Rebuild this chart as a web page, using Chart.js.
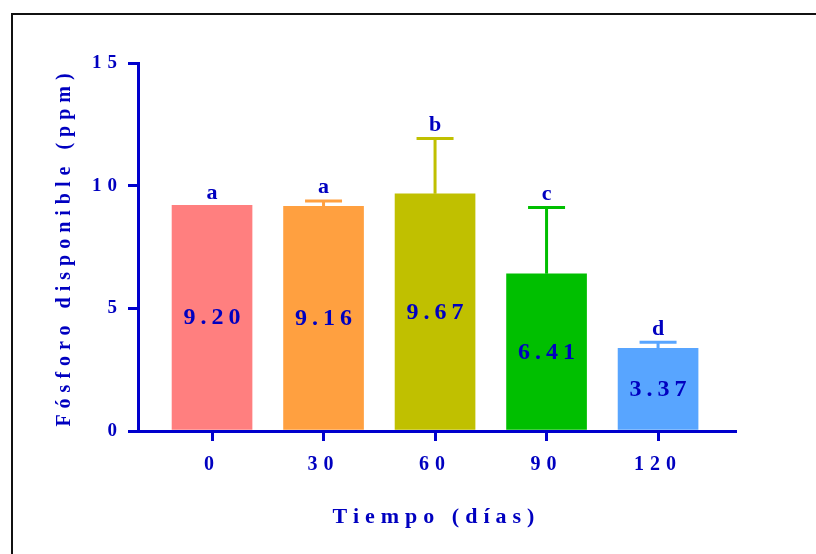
<!DOCTYPE html>
<html>
<head>
<meta charset="utf-8">
<script src="https://cdn.jsdelivr.net/npm/chart.js@4.4.1/dist/chart.umd.min.js"></script>
<style>
  html, body { margin: 0; padding: 0; background: #ffffff; }
  #wrap { position: relative; width: 816px; height: 554px; overflow: hidden; }
  #frame { position: absolute; left: 11px; top: 13px; right: -10px; bottom: -10px;
           border-left: 2px solid #111; border-top: 2px solid #111; }
  canvas { position: absolute; left: 0; top: 0; }
</style>
</head>
<body>
<div id="wrap">
  <div id="frame"></div>
  <canvas id="chart" width="816" height="554"></canvas>
</div>
<script>
// Tiempo de incubación (días) y fósforo disponible medio (ppm) con su desviación
const categories = ['0', '30', '60', '90', '120'];
const means = [9.20, 9.16, 9.67, 6.41, 3.37];
const sds = [0, 0.22, 2.25, 2.7, 0.25];
const letters = ['a', 'a', 'b', 'c', 'd'];
const yTicks = [0, 5, 10, 15];

const barColors = ['#FF7F7F', '#FFA040', '#C0C000', '#00BF00', '#58A5FF'];
const TEXT = '#0000C0';
const AXIS = '#0000CD';
const SERIF = '"Liberation Serif", "Times New Roman", serif';
const AXIS_SPACING = '6px';

// Spaced lettering for the axis texts
const spacing = {
  id: 'spacing',
  beforeUpdate(chart) { chart.ctx.letterSpacing = AXIS_SPACING; },
  beforeDraw(chart) { chart.ctx.letterSpacing = AXIS_SPACING; }
};

// Error bars, significance letters and mean labels
const annotations = {
  id: 'annotations',
  afterDatasetsDraw(chart) {
    const { ctx, scales: { x, y } } = chart;
    ctx.save();
    means.forEach((m, i) => {
      const cx = x.getPixelForValue(i);
      const yMean = y.getPixelForValue(m);
      let top = yMean;
      if (sds[i] > 0) {
        const yErr = y.getPixelForValue(m + sds[i]);
        ctx.strokeStyle = barColors[i];
        ctx.lineWidth = 3;
        ctx.beginPath();
        ctx.moveTo(cx, yMean);
        ctx.lineTo(cx, yErr);
        ctx.moveTo(cx - 18.5, yErr);
        ctx.lineTo(cx + 18.5, yErr);
        ctx.stroke();
        top = yErr - 1.5;
      }
      ctx.fillStyle = TEXT;
      ctx.textAlign = 'center';

      ctx.letterSpacing = '0px';
      ctx.font = 'bold 22px ' + SERIF;
      ctx.textBaseline = 'alphabetic';
      ctx.fillText(letters[i], cx, top - 6);

      ctx.letterSpacing = '5px';
      ctx.font = 'bold 24px ' + SERIF;
      ctx.textBaseline = 'middle';
      ctx.fillText(m.toFixed(2), cx + 2.5, y.getPixelForValue(m / 2));
    });
    ctx.restore();
    ctx.letterSpacing = AXIS_SPACING;
  }
};

new Chart(document.getElementById('chart'), {
  type: 'bar',
  data: {
    datasets: [{
      data: means.map((m, i) => ({ x: i, y: m })),
      backgroundColor: barColors,
      borderWidth: 0,
      barThickness: 80
    }]
  },
  options: {
    responsive: false,
    animation: false,
    devicePixelRatio: 1,
    layout: { padding: { top: 63, right: 81, left: 0, bottom: 0 } },
    plugins: { legend: { display: false }, tooltip: { enabled: false } },
    scales: {
      x: {
        type: 'linear',
        min: -0.664,
        max: 4.69,
        offset: false,
        z: 1,
        afterBuildTicks(scale) { scale.ticks = categories.map((_, i) => ({ value: i })); },
        afterFit(scale) { scale.height = 123; },
        border: { color: AXIS, width: 3 },
        grid: { offset: false, drawOnChartArea: false, drawTicks: true, tickLength: 10, color: AXIS, lineWidth: 3 },
        ticks: {
          color: TEXT,
          font: { family: SERIF, size: 20, weight: 'bold' },
          padding: 12,
          maxRotation: 0,
          autoSkip: false,
          callback: (v) => categories[Math.round(v)]
        },
        title: {
          display: true,
          text: 'Tiempo (días)',
          color: TEXT,
          font: { family: SERIF, size: 22, weight: 'bold' },
          padding: { top: 0, bottom: 23 }
        }
      },
      y: {
        min: 0,
        max: 15,
        z: 1,
        afterBuildTicks(scale) { scale.ticks = yTicks.map(v => ({ value: v })); },
        afterFit(scale) { scale.width = 138; },
        border: { color: AXIS, width: 3 },
        grid: { drawOnChartArea: false, drawTicks: true, tickLength: 10, color: AXIS, lineWidth: 3 },
        ticks: {
          color: TEXT,
          font: { family: SERIF, size: 19, weight: 'bold' },
          padding: 5
        },
        title: {
          display: true,
          text: 'Fósforo disponible (ppm)',
          color: TEXT,
          font: { family: SERIF, size: 20, weight: 'bold' },
          padding: { top: 53, bottom: 0 }
        }
      }
    }
  },
  plugins: [spacing, annotations]
});
</script>
</body>
</html>
